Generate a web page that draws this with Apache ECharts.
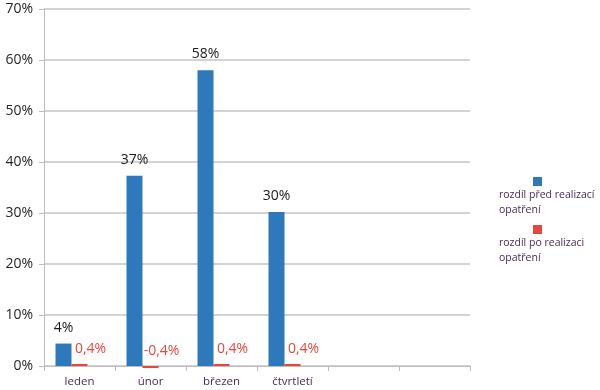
<!DOCTYPE html>
<html><head><meta charset="utf-8">
<script src="https://cdn.jsdelivr.net/npm/echarts@6/dist/echarts.min.js"></script>
<style>html,body{margin:0;padding:0;background:#fff}#c{width:600px;height:390px}</style>
</head><body><div id="c"></div>
<script>
const categories = ['leden', 'únor', 'březen', 'čtvrtletí', '', ''];
const seriesNames = ['rozdíl před realizací opatření', 'rozdíl po realizaci opatření'];
const beforeValues = [4.4, 37.3, 58.0, 30.2, null, null];
const afterValues = [0.4, -0.4, 0.4, 0.4, null, null];
const spacerValues = [null, null, null, null, null, null];
const yTicks = { min: 0, max: 70, interval: 10 };

const BLUE = '#2e78bc', RED = '#e8463c', FONT = '"Open Sans", sans-serif';
const chart = echarts.init(document.getElementById('c'), null, { renderer: 'canvas' });
chart.setOption({
  animation: false,
  textStyle: { fontFamily: FONT },
  grid: { left: 44, right: 130, top: 9, bottom: 24, containLabel: false },
  legend: {
    data: seriesNames,
    orient: 'vertical', left: 489, top: 171,
    itemWidth: 0, itemHeight: 0, itemGap: 8,
    icon: 'rect',
    selectedMode: false,
    formatter: function (name) {
      const i = seriesNames.indexOf(name);
      const parts = name.split(' ');
      const last = parts.pop();
      return '{gap|}{sq' + i + '|}\n{t|' + parts.join(' ') + '}\n{t|' + last + '}';
    },
    textStyle: {
      fontFamily: FONT, fontSize: 10.5, color: '#4a2a58',
      rich: {
        gap: { width: 34, height: 10, lineHeight: 13 },
        sq0: { width: 9, height: 9, backgroundColor: BLUE, lineHeight: 13 },
        sq1: { width: 9, height: 9, backgroundColor: RED, lineHeight: 13 },
        t: { fontSize: 10.5, lineHeight: 15, color: '#4a2a58', fontFamily: FONT }
      }
    }
  },
  xAxis: {
    type: 'category', data: categories,
    axisLine: { lineStyle: { color: '#bdbdbd', width: 1 } },
    axisTick: { show: true, length: 5, lineStyle: { color: '#bdbdbd' }, alignWithLabel: false },
    axisLabel: { color: '#4a2a58', fontSize: 11.5, margin: 10, fontFamily: FONT, interval: 0 },
    splitLine: { show: false }
  },
  yAxis: {
    type: 'value', min: yTicks.min, max: yTicks.max, interval: yTicks.interval,
    axisLine: { show: true, lineStyle: { color: '#bdbdbd' } },
    axisTick: { show: true, length: 5, lineStyle: { color: '#bdbdbd' } },
    axisLabel: { color: '#262626', fontSize: 14, margin: 11, fontFamily: FONT, formatter: v => v + '%' },
    splitLine: { lineStyle: { color: '#c4c4c4', width: 1.5 } }
  },
  series: [
    {
      name: seriesNames[0], type: 'bar', data: beforeValues,
      barWidth: 16, barGap: '0%',
      itemStyle: { color: BLUE },
      label: { show: true, position: 'top', distance: 9, color: '#1a1a1a', fontSize: 14, fontFamily: FONT,
        formatter: p => p.value == null ? '' : Math.round(p.value) + '%' }
    },
    {
      name: seriesNames[1], type: 'bar', data: afterValues,
      barWidth: 16, barGap: '0%', clip: false,
      itemStyle: { color: RED },
      label: { show: true, position: 'top', distance: 5, offset: [11, -3], color: RED, fontSize: 14, fontFamily: FONT,
        formatter: p => p.value == null ? '' : p.value.toFixed(1).replace('.', ',') + '%' }
    },
    {
      name: 'spacer', type: 'bar', data: spacerValues, barWidth: 16, barGap: '0%',
      itemStyle: { color: 'transparent' }
    }
  ]
});
</script></body></html>
